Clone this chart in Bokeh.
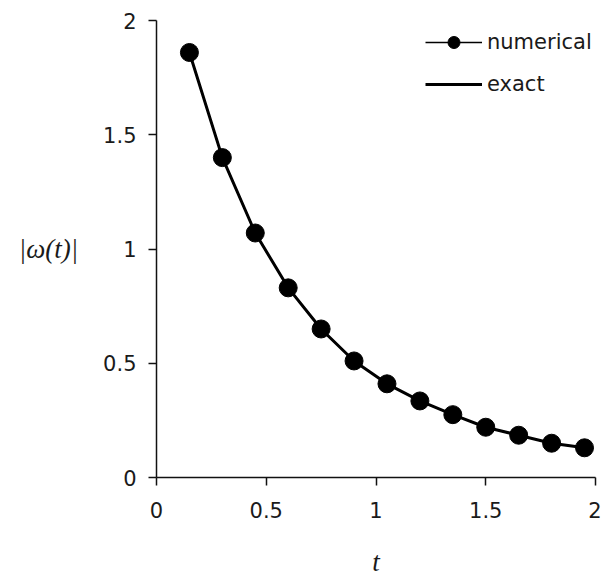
from bokeh.plotting import figure
from bokeh.models import Range1d, Legend, LegendItem
from bokeh.embed import file_html
from bokeh.resources import INLINE

# data
t_numerical = [0.15, 0.30, 0.45, 0.60, 0.75, 0.90, 1.05, 1.20, 1.35, 1.50, 1.65, 1.80, 1.95]
w_numerical = [1.86, 1.40, 1.07, 0.83, 0.65, 0.51, 0.41, 0.335, 0.275, 0.22, 0.185, 0.15, 0.13]
t_exact = [0.15, 0.30, 0.45, 0.60, 0.75, 0.90, 1.05, 1.20, 1.35, 1.50, 1.65, 1.80, 1.95]
w_exact = [1.86, 1.40, 1.07, 0.83, 0.65, 0.51, 0.41, 0.335, 0.275, 0.22, 0.185, 0.15, 0.13]
x_ticks = [0, 0.5, 1, 1.5, 2]
y_ticks = [0, 0.5, 1, 1.5, 2]

p = figure(width=601, height=579, output_backend="svg", toolbar_location=None,
           x_range=Range1d(0, 2), y_range=Range1d(0, 2),
           min_border_left=156, min_border_right=6, min_border_top=20, min_border_bottom=102)
p.outline_line_color = None
p.grid.visible = False
p.background_fill_color = "white"
p.border_fill_color = "white"

for ax, ticks in ((p.xaxis[0], x_ticks), (p.yaxis[0], y_ticks)):
    ax.ticker = ticks
    ax.axis_line_width = 1.5
    ax.axis_line_color = "#111111"
    ax.major_tick_line_width = 1.5
    ax.major_tick_line_color = "#111111"
    ax.major_tick_in = 0
    ax.major_tick_out = 8
    ax.minor_tick_line_color = None
    ax.major_label_text_font = "DejaVu Sans"
    ax.major_label_text_font_size = "21px"
    ax.major_label_text_color = "#1a1a1a"
    ax.axis_label_text_font = "Liberation Serif"
    ax.axis_label_text_font_style = "italic"
    ax.axis_label_text_font_size = "27px"
    ax.axis_label_text_color = "#1a1a1a"

p.xaxis.major_label_standoff = 16
p.yaxis.major_label_standoff = 12
p.xaxis.axis_label = "t"
p.xaxis.axis_label_standoff = 26
p.yaxis.axis_label = "|ω(t)|"
p.yaxis.axis_label_orientation = "horizontal"
p.yaxis.axis_label_standoff = 22

r_exact = p.line(t_exact, w_exact, line_color="black", line_width=3)
r_num_line = p.line(t_numerical, w_numerical, line_color="black", line_width=1.5)
r_num_pts = p.scatter(t_numerical, w_numerical, marker="circle", size=18,
                      fill_color="black", line_color="black")

legend = Legend(items=[
    LegendItem(label="numerical", renderers=[r_num_line, r_num_pts]),
    LegendItem(label="exact", renderers=[r_exact]),
], location=(269, 378))
legend.glyph_width = 57
legend.glyph_height = 30
legend.label_height = 30
legend.spacing = 12
legend.padding = 0
legend.margin = 0
legend.label_standoff = 5
legend.border_line_color = None
legend.background_fill_alpha = 0
legend.label_text_font = "DejaVu Sans"
legend.label_text_font_size = "21px"
legend.label_text_color = "#1a1a1a"
p.add_layout(legend, "center")

open("out.html", "w").write(file_html(p, INLINE))
